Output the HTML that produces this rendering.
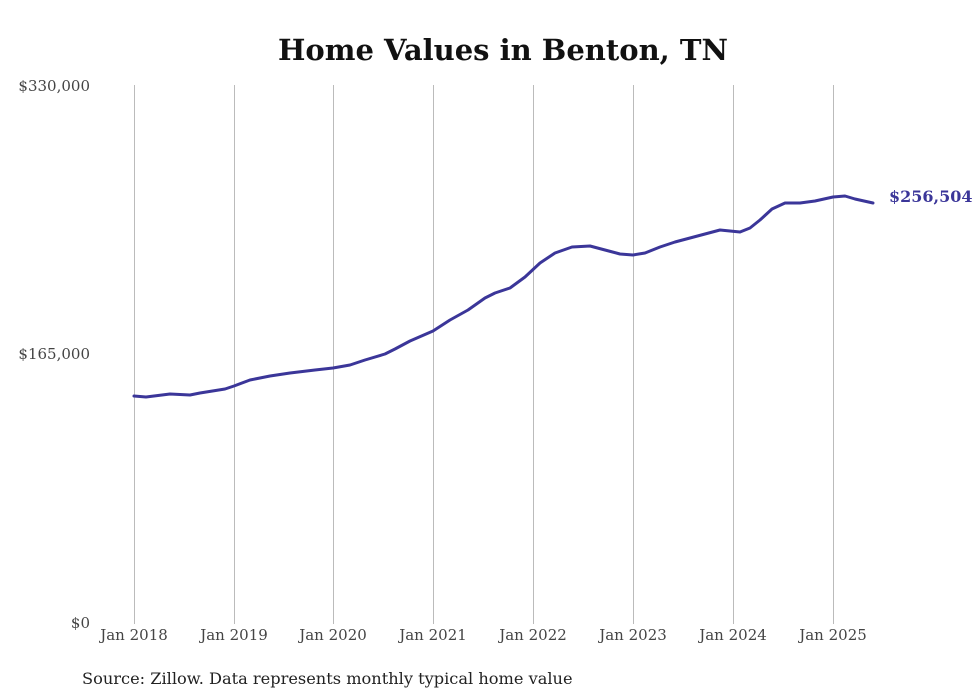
<!DOCTYPE html>
<html><head><meta charset="utf-8"><style>
html,body{margin:0;padding:0;background:#fff;}
svg{display:block;font-family:"DejaVu Serif","Liberation Serif",serif;}
</style></head><body>
<svg width="980" height="699" viewBox="0 0 980 699">
<rect width="980" height="699" fill="#fff"/>
<text x="503" y="60" text-anchor="middle" font-size="29" font-weight="bold" fill="#111">Home Values in Benton, TN</text>
<g stroke="#bbb" stroke-width="1">
<line x1="134.5" y1="85" x2="134.5" y2="624"/>
<line x1="234.5" y1="85" x2="234.5" y2="624"/>
<line x1="333.5" y1="85" x2="333.5" y2="624"/>
<line x1="433.5" y1="85" x2="433.5" y2="624"/>
<line x1="533.5" y1="85" x2="533.5" y2="624"/>
<line x1="633.5" y1="85" x2="633.5" y2="624"/>
<line x1="733.5" y1="85" x2="733.5" y2="624"/>
<line x1="833.5" y1="85" x2="833.5" y2="624"/>
</g>
<g font-size="15" fill="#444">
<text x="90" y="91" text-anchor="end">$330,000</text>
<text x="90" y="359" text-anchor="end">$165,000</text>
<text x="90" y="628" text-anchor="end">$0</text>
<g text-anchor="middle">
<text x="134" y="640">Jan 2018</text>
<text x="234" y="640">Jan 2019</text>
<text x="333" y="640">Jan 2020</text>
<text x="433" y="640">Jan 2021</text>
<text x="533" y="640">Jan 2022</text>
<text x="633" y="640">Jan 2023</text>
<text x="733" y="640">Jan 2024</text>
<text x="833" y="640">Jan 2025</text>
</g></g>
<polyline fill="none" stroke="#3b3699" stroke-width="3" stroke-linejoin="round" stroke-linecap="round"
points="134,396 146,397 170,394 190,395 200,393 225,389 234,386 250,380 270,376 290,373 315,370 333,368 350,365 365,360 385,354 395,349 410,341 433,331 450,320 468,310 485,298 495,293 510,288 525,277 540,263 555,253 572,247 590,246 605,250 620,254 633,255 645,253 660,247 675,242 690,238 705,234 720,230 730,231 740,232 750,228 760,220 772,209 785,203 800,203 815,201 833,197 845,196 855,199 873,203"/>
<text x="889" y="202" font-size="16" font-weight="bold" fill="#3b3699">$256,504</text>
<text x="82" y="684" font-size="16.2" fill="#222">Source: Zillow. Data represents monthly typical home value</text>
</svg>
</body></html>
